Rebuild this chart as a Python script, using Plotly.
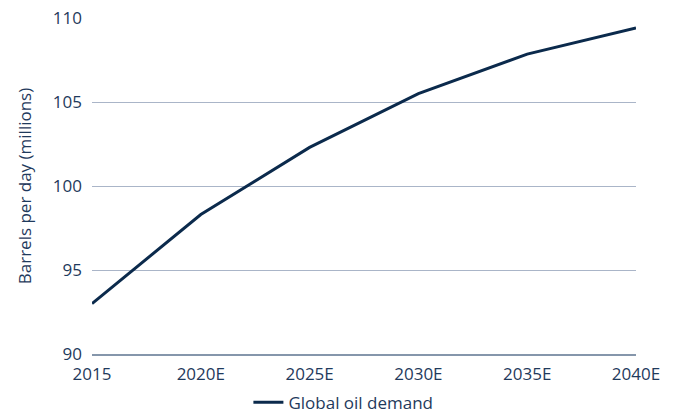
import plotly.graph_objects as go

years = ["2015", "2020E", "2025E", "2030E", "2035E", "2040E"]
demand = [93.0, 98.3, 102.3, 105.5, 107.85, 109.4]
y_ticks = [90, 95, 100, 105, 110]

text_color = "#1f3a5c"
fig = go.Figure()
fig.add_trace(go.Scatter(
    x=years, y=demand, mode="lines", name="Global oil demand",
    line=dict(color="#0b2a4c", width=3),
))
fig.update_layout(
    width=680, height=414,
    margin=dict(l=92, r=44, t=18, b=60, autoexpand=False),
    paper_bgcolor="white", plot_bgcolor="white",
    font=dict(family="Open Sans", color=text_color, size=17),
    showlegend=True,
    legend=dict(orientation="h", x=0.505, xanchor="center", xref="container",
                y=0.027, yanchor="middle", yref="container",
                font=dict(size=17, color=text_color)),
    xaxis=dict(type="category", range=[0, 5], showgrid=False, automargin=False,
               showline=True, linecolor="#8596ab", linewidth=2,
               ticks="", ticklabelstandoff=4,
               tickfont=dict(size=17, color=text_color)),
    yaxis=dict(range=[90, 110], tickvals=y_ticks, showgrid=True, automargin=False,
               gridcolor="#aab5c8", gridwidth=1.3, zeroline=False,
               ticks="", ticklabelstandoff=9,
               tickfont=dict(size=17, color=text_color),
               title=dict(text="Barrels per day (millions)", standoff=16,
                          font=dict(size=17, color=text_color))),
)
fig.write_html("out.html")
